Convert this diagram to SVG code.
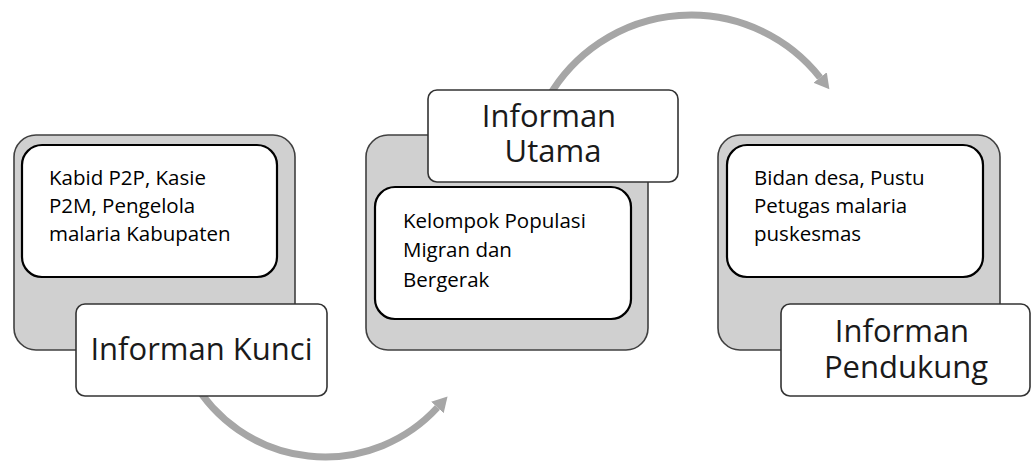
<svg xmlns="http://www.w3.org/2000/svg" width="1032" height="463" viewBox="0 0 1032 463">
  <style>
    .panel { fill: #d0d0d0; stroke: #404040; stroke-width: 1.6; }
    .inner { fill: #ffffff; stroke: #000000; stroke-width: 2.2; }
    .label { fill: #ffffff; stroke: #333333; stroke-width: 1.6; }
    .body { font-family: "Open Sans", "Noto Sans", sans-serif; font-size: 20.5px; fill: #000000; }
    .title { font-family: "Open Sans", "Noto Sans", sans-serif; font-size: 31px; fill: #1a1a1a; text-anchor: middle; }
    .flow { fill: none; stroke: #a6a6a6; stroke-width: 7; stroke-linecap: butt; }
  </style>
  <defs>
    <marker id="head" markerUnits="userSpaceOnUse" viewBox="0 -9 16 18" refX="0" refY="0" markerWidth="16" markerHeight="18" orient="auto">
      <path d="M0,-8.5 L15,0 L0,8.5 Z" fill="#a6a6a6"/>
    </marker>
  </defs>

  <!-- curved flow arrows, drawn first so the label boxes sit on top -->
  <g id="connectors">
    <path class="flow" d="M193,380.8 A152.5,152.5 0 0 0 437.4,407.5" marker-end="url(#head)"/>
    <path class="flow" d="M548.5,97.3 A164.5,164.5 0 0 1 820.1,77.6" marker-end="url(#head)"/>
  </g>

  <g id="informan-kunci">
    <rect class="panel" x="14" y="135" width="281" height="215" rx="22" ry="22"/>
    <rect class="inner" x="22" y="145" width="255" height="132" rx="20" ry="20"/>
    <text class="body">
      <tspan x="49" y="185">Kabid P2P, Kasie</tspan>
      <tspan x="49" y="212.8">P2M, Pengelola</tspan>
      <tspan x="49" y="240.6">malaria Kabupaten</tspan>
    </text>
    <rect class="label" x="76" y="304" width="251" height="92" rx="9" ry="9"/>
    <text class="title" x="201.5" y="360">Informan Kunci</text>
  </g>

  <g id="informan-utama">
    <rect class="panel" x="366" y="135" width="282" height="215" rx="22" ry="22"/>
    <rect class="inner" x="375" y="187" width="256" height="132" rx="20" ry="20"/>
    <text class="body">
      <tspan x="403" y="227.7">Kelompok Populasi</tspan>
      <tspan x="403" y="257.2">Migran dan</tspan>
      <tspan x="403" y="286.7">Bergerak</tspan>
    </text>
    <rect class="label" x="428" y="90" width="250" height="92" rx="9" ry="9"/>
    <text class="title">
      <tspan x="553" y="127">Informan</tspan>
      <tspan x="553" y="162">Utama</tspan>
    </text>
  </g>

  <g id="informan-pendukung">
    <rect class="panel" x="718" y="135" width="282" height="215" rx="22" ry="22"/>
    <rect class="inner" x="727" y="145" width="256" height="132" rx="20" ry="20"/>
    <text class="body">
      <tspan x="754" y="185">Bidan desa, Pustu</tspan>
      <tspan x="754" y="212.8">Petugas malaria</tspan>
      <tspan x="754" y="240.6">puskesmas</tspan>
    </text>
    <rect class="label" x="781" y="304" width="249" height="92" rx="9" ry="9"/>
    <text class="title">
      <tspan x="906" y="342">Informan</tspan>
      <tspan x="906" y="378">Pendukung</tspan>
    </text>
  </g>
</svg>
